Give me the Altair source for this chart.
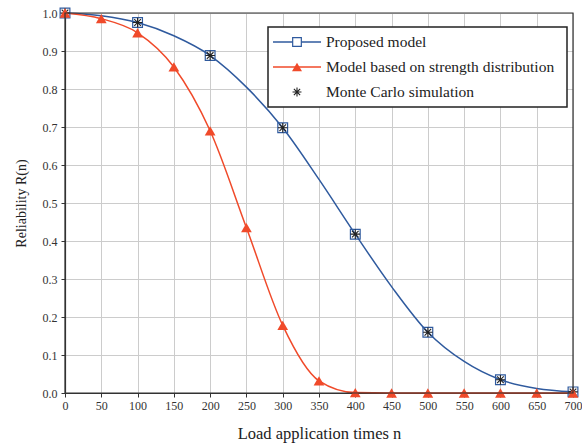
import altair as alt
import pandas as pd

n_vals = [0, 50, 100, 150, 200, 250, 300, 350, 400, 450, 500, 550, 600, 650, 700]
proposed = [1.0, 0.993, 0.975, 0.94, 0.888, 0.805, 0.698, 0.562, 0.418, 0.28, 0.16, 0.083, 0.035, 0.012, 0.003]
strength = [1.0, 0.985, 0.948, 0.858, 0.69, 0.435, 0.178, 0.032, 0.001, 0.0, 0.0, 0.0, 0.0, 0.0, 0.0]
mc_n = [0, 100, 200, 300, 400, 500, 600, 700]
mc_vals = [1.0, 0.975, 0.888, 0.698, 0.418, 0.16, 0.035, 0.003]
y_ticks = [0.0, 0.1, 0.2, 0.3, 0.4, 0.5, 0.6, 0.7, 0.8, 0.9, 1.0]

BLUE = "#2f5a9e"
RED = "#f04a2a"
FONT = "Liberation Serif"
ASTER = "M-1,0L1,0M0,-1L0,1M-0.7,-0.7L0.7,0.7M-0.7,0.7L0.7,-0.7"

df = pd.DataFrame({"n": n_vals, "p": proposed, "s": strength})
mc = pd.DataFrame({"n": mc_n, "r": mc_vals})

W, H = 508, 380
xs = alt.Scale(domain=[0, 700], nice=False)
ys = alt.Scale(domain=[0, 1], nice=False)

common = dict(grid=True, labelFont=FONT, titleFont=FONT, labelFontSize=12,
              titleFontWeight="normal", labelColor="#333", titleColor="#222",
              gridColor="#cccccc", domainColor="#333", tickColor="#333", domainWidth=1.2,
              tickSize=4, labelOverlap=False, labelBound=False, labelFlush=False)
xaxis = alt.Axis(values=n_vals, title="Load application times n", titlePadding=14,
                 titleFontSize=16.5, labelPadding=3, **common)
yaxis = alt.Axis(values=y_ticks, format=".1f", title="Reliability R(n)", titlePadding=14,
                 titleFontSize=14, labelPadding=4, **common)

def X():
    return alt.X("n:Q", scale=xs, axis=xaxis)

def Y(field):
    return alt.Y(field, scale=ys, axis=yaxis)

base = alt.Chart(df)
blue_line = base.mark_line(color=BLUE, strokeWidth=1.5, interpolate="monotone").encode(
    x=X(), y=Y("p:Q"))
red_line = base.mark_line(color=RED, strokeWidth=1.5, interpolate="monotone").encode(
    x=X(), y=Y("s:Q"))
red_pts = base.mark_point(shape="triangle-up", filled=True, color=RED, size=115, opacity=1).encode(
    x=X(), y=Y("s:Q"))
blue_sq = alt.Chart(mc).mark_point(shape="square", filled=False, color=BLUE, size=95,
                                    strokeWidth=1.2, opacity=1).encode(
    x=X(), y=Y("r:Q"))
mc_pts = alt.Chart(mc).mark_point(shape=ASTER, filled=False, color="#222", size=90,
                                  strokeWidth=1.1, opacity=1).encode(
    x=X(), y=Y("r:Q"))

one = pd.DataFrame({"a": [0]})
frame = alt.Chart(one).mark_rect(fill=None, stroke="#333", strokeWidth=1.2).encode(
    x=alt.value(0), x2=alt.value(W), y=alt.value(0), y2=alt.value(H))

# manual legend
lx0, lx1, ly0, ly1 = 203, 502, 14, 94
leg_box = alt.Chart(one).mark_rect(fill="white", stroke="#222", strokeWidth=1.5).encode(
    x=alt.value(lx0), x2=alt.value(lx1), y=alt.value(ly0), y2=alt.value(ly1))
rows = [29, 54, 79]
leg_parts = [leg_box]
leg_parts.append(alt.Chart(one).mark_rule(color=BLUE, strokeWidth=1.5).encode(
    x=alt.value(208), x2=alt.value(256), y=alt.value(rows[0])))
leg_parts.append(alt.Chart(one).mark_point(shape="square", filled=True, fill="white", stroke=BLUE,
                                           size=75, strokeWidth=1.2, opacity=1).encode(
    x=alt.value(232), y=alt.value(rows[0])))
leg_parts.append(alt.Chart(one).mark_rule(color=RED, strokeWidth=1.5).encode(
    x=alt.value(208), x2=alt.value(256), y=alt.value(rows[1])))
leg_parts.append(alt.Chart(one).mark_point(shape="triangle-up", filled=True, color=RED,
                                           size=100, opacity=1).encode(
    x=alt.value(232), y=alt.value(rows[1])))
leg_parts.append(alt.Chart(one).mark_point(shape=ASTER, filled=False, color="#222", size=80,
                                           strokeWidth=1.1, opacity=1).encode(
    x=alt.value(232), y=alt.value(rows[2])))
labels = ["Proposed model", "Model based on strength distribution", "Monte Carlo simulation"]
for lab, yy in zip(labels, rows):
    leg_parts.append(alt.Chart(one).mark_text(text=lab, font=FONT, fontSize=15.5, color="#222",
                                              align="left", baseline="middle").encode(
        x=alt.value(261), y=alt.value(yy)))

chart = alt.layer(blue_line, red_line, blue_sq, mc_pts, red_pts, frame, *leg_parts).properties(
    width=W, height=H,
    autosize=alt.AutoSizeParams(type="none"),
    padding={"left": 65, "top": 13, "right": 9, "bottom": 55},
    background="white",
).configure_view(stroke=None)

chart.save("out.html", embed_options={"renderer": "svg", "actions": False})
